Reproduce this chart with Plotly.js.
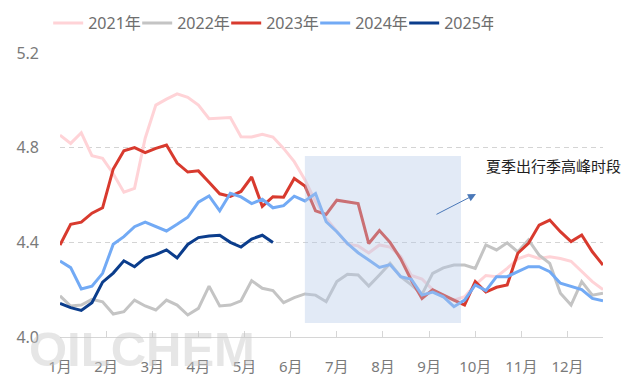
<!DOCTYPE html>
<html>
<head>
<meta charset="utf-8">
<script src="https://cdn.plot.ly/plotly-3.0.1.min.js"></script>
<style>html,body{margin:0;padding:0;background:#fff;}#chart{width:624px;height:387px;}</style>
</head>
<body>
<div id="chart"></div>
<script>
// Weekly series (week index 0..51)
const months = ["1月","2月","3月","4月","5月","6月","7月","8月","9月","10月","11月","12月"];
const seriesNames = ["2021年","2022年","2023年","2024年","2025年"];

const y2021 = [4.853,4.818,4.863,4.766,4.755,4.690,4.612,4.628,4.840,4.980,5.005,5.027,5.013,4.980,4.922,4.926,4.927,4.846,4.845,4.857,4.845,4.797,4.741,4.665,4.572,4.501,4.445,4.392,4.385,4.355,4.389,4.380,4.340,4.260,4.245,4.200,4.170,4.156,4.170,4.220,4.260,4.255,4.290,4.330,4.346,4.332,4.339,4.332,4.320,4.276,4.234,4.200];
const y2022 = [4.174,4.131,4.135,4.159,4.149,4.097,4.107,4.156,4.131,4.114,4.156,4.135,4.093,4.121,4.215,4.131,4.135,4.153,4.238,4.206,4.196,4.145,4.166,4.182,4.177,4.149,4.234,4.265,4.262,4.215,4.262,4.311,4.255,4.220,4.180,4.269,4.292,4.304,4.304,4.290,4.389,4.368,4.398,4.360,4.410,4.346,4.311,4.185,4.135,4.234,4.177,4.185];
const y2023 = [4.389,4.476,4.485,4.523,4.546,4.710,4.787,4.800,4.779,4.797,4.811,4.735,4.697,4.702,4.654,4.605,4.594,4.615,4.676,4.552,4.593,4.591,4.670,4.638,4.533,4.518,4.578,4.572,4.564,4.395,4.450,4.400,4.330,4.240,4.163,4.200,4.177,4.156,4.135,4.234,4.190,4.210,4.220,4.354,4.396,4.473,4.494,4.445,4.403,4.431,4.360,4.304];
const y2024 = [4.321,4.293,4.203,4.215,4.269,4.392,4.424,4.466,4.485,4.466,4.448,4.476,4.506,4.570,4.596,4.533,4.607,4.592,4.564,4.582,4.546,4.555,4.595,4.575,4.606,4.487,4.445,4.395,4.356,4.325,4.294,4.306,4.255,4.244,4.177,4.190,4.170,4.128,4.156,4.220,4.196,4.255,4.255,4.276,4.297,4.297,4.276,4.227,4.215,4.200,4.163,4.153];
const y2025 = [4.142,4.124,4.112,4.145,4.232,4.270,4.322,4.297,4.334,4.348,4.368,4.334,4.391,4.420,4.427,4.430,4.400,4.380,4.414,4.430,4.399];

const colors = ["#ffd3d7","#c4c4c4","#d83a2e","#72aaf5","#0b3d8c"];
const allY = [y2021,y2022,y2023,y2024,y2025];

const font = "Noto Sans, Noto Sans CJK SC, sans-serif";
const weeksPerMonth = 52/12;

const traces = allY.map((ys,i)=>({
  type:"scatter", mode:"lines", name:seriesNames[i],
  x: ys.map((_,k)=>k), y: ys,
  line:{color:colors[i], width:3}
}));

const layout = {
  width:624, height:387,
  margin:{l:60, r:21, t:53, b:50, autoexpand:false},
  paper_bgcolor:"#fff", plot_bgcolor:"#fff",
  font:{family:font, color:"#7a7a7a", size:15},
  showlegend:true,
  legend:{orientation:"h", x:0.388, xanchor:"center", y:1.105, yanchor:"middle",
          font:{family:font, size:16, color:"#6e6e6e"}, itemwidth:30,
          entrywidth:44, traceorder:"normal", bgcolor:"rgba(0,0,0,0)"},
  xaxis:{range:[0,51], tickvals: months.map((_,i)=>i*weeksPerMonth), ticktext: months,
         showgrid:false, zeroline:false, showline:true, linecolor:"#d6d6d6", linewidth:1,
         ticks:"inside", ticklen:6, tickcolor:"#d6d6d6", ticklabelstandoff:16,
         tickfont:{family:font, size:15, color:"#7a7a7a"}, fixedrange:true},
  yaxis:{range:[4.0,5.2], tickvals:[4.0,4.4,4.8,5.2], ticktext:["4.0","4.4","4.8","5.2"],
         showgrid:true, gridcolor:"#d4d4d4", griddash:"5px,4px", gridwidth:1,
         zeroline:false, showline:false, ticks:"", ticklabelstandoff:20,
         tickfont:{family:font, size:16, color:"#7a7a7a"}, fixedrange:true},
  shapes:[{type:"rect", xref:"x", yref:"y", x0:23.0, x1:37.66, y0:4.059, y1:4.765,
           fillcolor:"rgba(180,200,232,0.38)", line:{width:0}, layer:"above"}],
  annotations:[
    {xref:"x", yref:"y", x:39.07, y:4.604, axref:"x", ayref:"y", ax:35.22, ay:4.515,
     text:"", showarrow:true, arrowhead:2, arrowsize:1.6, arrowwidth:1, arrowcolor:"#4a78b8"},
    {xref:"x", yref:"y", x:39.8, y:4.722, xanchor:"left", yanchor:"middle",
     text:"夏季出行季高峰时段", showarrow:false, font:{family:font, size:15, color:"#1f1f1f"}},
    {xref:"paper", yref:"paper", x:0.151, y:-0.042, xanchor:"center", yanchor:"middle",
     text:"<b>OILCHEM</b>", showarrow:false,
     font:{family:"Liberation Sans, Arial, sans-serif", size:49, color:"rgba(200,200,200,0.45)"}}
  ]
};

Plotly.newPlot("chart", traces, layout, {staticPlot:true, displayModeBar:false});
</script>
</body>
</html>
